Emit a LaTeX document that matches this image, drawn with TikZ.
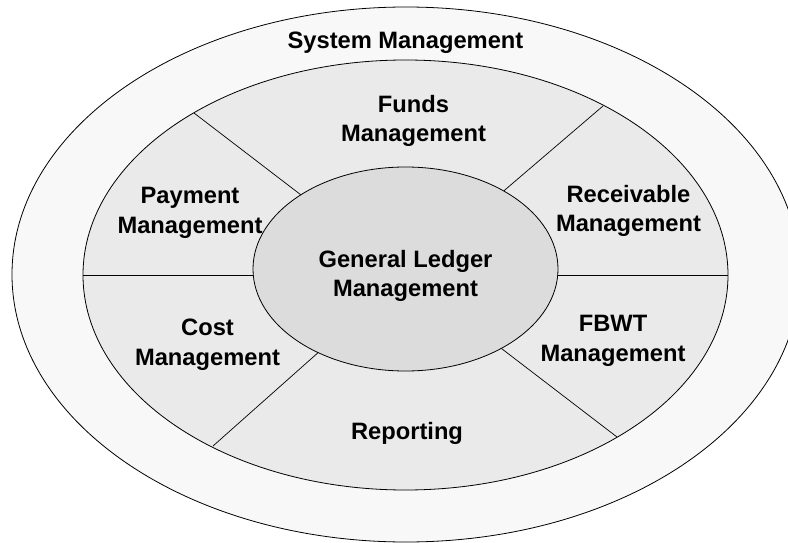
\documentclass[tikz,border=0pt]{standalone}
\usepackage{fontspec}
\setmainfont{Liberation Sans}
\begin{document}
\begin{tikzpicture}[x=1pt,y=-1pt,
  ring/.style={draw=black,line width=0.8pt},
  divider/.style={draw=black,line width=0.7pt},
  lbl/.style={font=\fontsize{23.7}{29.5}\selectfont\bfseries,align=center,inner sep=0pt,text=black}]
\definecolor{outerfill}{HTML}{F8F8F8}
\definecolor{midfill}{HTML}{EAEAEA}
\definecolor{innerfill}{HTML}{DCDCDC}
\useasboundingbox (0,0) rectangle (788,543);
\clip (0,0) rectangle (788,543);
% rings
\path[ring,fill=outerfill] (406,274.5) ellipse [x radius=394, y radius=267.5];
\path[ring,fill=midfill] (405.5,275) ellipse [x radius=322.5, y radius=215];
% dividers (radial, from common centre to the middle ring)
\coordinate (c) at (405.5,275);
\coordinate (d1) at (194,113);
\coordinate (d2) at (603,106);
\coordinate (d3) at (83,275);
\coordinate (d4) at (728,275);
\coordinate (d5) at (213,446);
\coordinate (d6) at (617,437);
\foreach \p in {d1,d2,d3,d4,d5,d6} \draw[divider] (c) -- (\p);
% inner ellipse
\path[ring,fill=innerfill] (405.5,269) ellipse [x radius=152.5, y radius=102];
% labels
\node[lbl,anchor=base] (sys) at (405.5,48.5) {System Management};
\node[lbl,anchor=north] (funds) at (413.5,95) {Funds\\Management};
\node[lbl,anchor=north] (pay) at (190,187) {Payment\\Management};
\node[lbl,anchor=north] (rec) at (628.5,185) {Receivable\\Management};
\node[lbl,anchor=north] (gl) at (405.5,250) {General Ledger\\Management};
\node[lbl,anchor=north] (cost) at (207.5,319) {Cost\\Management};
\node[lbl,anchor=north] (fbwt) at (613,315) {FBWT\\Management};
\node[lbl,anchor=base] (rep) at (407,439.5) {Reporting};
\end{tikzpicture}
\end{document}
